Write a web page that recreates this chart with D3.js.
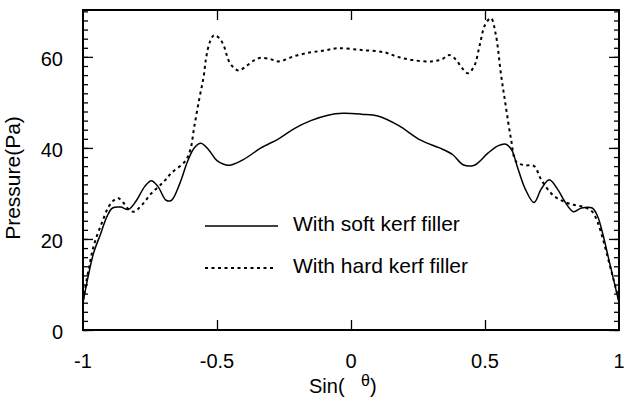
<!DOCTYPE html>
<html>
<head>
<meta charset="utf-8">
<script src="https://cdn.jsdelivr.net/npm/d3@7"></script>
<style>
  body { margin: 0; background: #fff; }
  svg { display: block; font-family: "Liberation Sans", Arial, sans-serif; }
</style>
</head>
<body>
<svg id="chart" width="632" height="397"></svg>
<script>
// pressure distribution vs sin(theta)
var softX = [-1, -0.98, -0.96, -0.935, -0.91, -0.89, -0.86, -0.83, -0.8, -0.77, -0.745, -0.72, -0.69, -0.67,
  -0.64, -0.61, -0.585, -0.56, -0.53, -0.5, -0.455, -0.4, -0.336, -0.27, -0.21, -0.15, -0.086, -0.03,
  0.04, 0.1, 0.175, 0.26, 0.33, 0.38, 0.418, 0.46, 0.51, 0.55, 0.578, 0.6, 0.62, 0.65, 0.683, 0.71,
  0.74, 0.77, 0.8, 0.83, 0.86, 0.9, 0.92, 0.94, 0.96, 0.98, 1];
var softY = [6, 12, 17, 21, 25, 26.8, 27, 26.5, 28.5, 31.5, 32.8, 31.5, 28.5, 28.5,
  32, 37, 40, 41, 39.5, 37.2, 36.2, 37.5, 40, 42, 44.3, 46, 47.2, 47.6,
  47.4, 47, 45, 41.7, 40, 38.5, 36.3, 36.2, 38.8, 40.5, 40.8, 39.5, 36, 31, 28, 31,
  33, 31, 28, 26, 26.8, 26.8, 25, 21, 16, 11, 6];

var hardX = [-1, -0.98, -0.96, -0.93, -0.905, -0.885, -0.87, -0.85, -0.83, -0.81, -0.78, -0.745, -0.7,
  -0.67, -0.62, -0.6, -0.585, -0.567, -0.55, -0.54, -0.525, -0.51, -0.49, -0.475, -0.455, -0.435,
  -0.418, -0.39, -0.36, -0.336, -0.3, -0.27, -0.21, -0.15, -0.1, -0.05, 0.04, 0.125, 0.175, 0.23,
  0.3, 0.34, 0.366, 0.39, 0.415, 0.436, 0.46, 0.48, 0.5, 0.522, 0.54, 0.56, 0.578, 0.597, 0.616,
  0.646, 0.683, 0.71, 0.754, 0.795, 0.83, 0.87, 0.9, 0.92, 0.94, 0.96, 0.98, 1];
var hardY = [6.5, 13, 18.5, 23.5, 27, 28.5, 29, 28, 26.5, 26, 27.5, 30, 32.5,
  34.5, 37, 39.5, 44.6, 50.5, 55.6, 60, 63.5, 64.8, 64, 62.5, 59, 57.5,
  57, 58, 59.3, 59.8, 59.5, 59, 60.2, 61, 61.4, 61.9, 61.5, 61, 60, 59.3,
  59, 59.5, 60.4, 59.5, 57.5, 56.4, 58, 62.5, 67, 68.5, 65, 56, 49, 42, 37,
  36.2, 36, 33, 29.6, 28.2, 27.5, 27, 26, 23.7, 20, 15.5, 11, 6.5];

var xTicks = [-1, -0.5, 0, 0.5, 1];
var xTickLabels = ["-1", "-0.5", "0", "0.5", "1"];
var yTicks = [0, 20, 40, 60];
var legendLabels = ["With soft kerf filler", "With hard kerf filler"];

var svg = d3.select("#chart");
var plotL = 83, plotR = 619, plotT = 10, plotB = 330;

var x = d3.scaleLinear().domain([-1, 1]).range([plotL, plotR]);
var y = d3.scaleLinear().domain([0, 70.3]).range([plotB, plotT]);

var minorY = d3.range(0, 71, 2);
var majorXinner = [-0.5, 0, 0.5];

// left axis ticks
svg.append("g").attr("transform", "translate(" + plotL + ",0)")
  .call(d3.axisLeft(y).tickValues(minorY).tickSize(-5).tickFormat(""));
svg.append("g").attr("transform", "translate(" + plotL + ",0)")
  .call(d3.axisLeft(y).tickValues(yTicks).tickSize(-10).tickFormat(""));
// right axis ticks
svg.append("g").attr("transform", "translate(" + plotR + ",0)")
  .call(d3.axisRight(y).tickValues(minorY).tickSize(-5).tickFormat(""));
svg.append("g").attr("transform", "translate(" + plotR + ",0)")
  .call(d3.axisRight(y).tickValues(yTicks).tickSize(-10).tickFormat(""));
// bottom / top ticks
svg.append("g").attr("transform", "translate(0," + plotB + ")")
  .call(d3.axisBottom(x).tickValues(majorXinner).tickSize(-10).tickFormat(""));
svg.append("g").attr("transform", "translate(0," + plotT + ")")
  .call(d3.axisTop(x).tickValues(majorXinner).tickSize(-10).tickFormat(""));

svg.selectAll(".domain").remove();
svg.selectAll(".tick line").attr("stroke", "#000").attr("stroke-width", 1.3);

// tick labels
svg.append("g").selectAll("text").data(yTicks).enter().append("text")
  .attr("x", plotL - 20).attr("y", function (d) { return y(d) + 9; })
  .attr("text-anchor", "end").attr("font-size", 20).text(function (d) { return d; });
svg.append("g").selectAll("text").data(xTicks).enter().append("text")
  .attr("x", function (d) { return x(d); }).attr("y", 368)
  .attr("text-anchor", "middle").attr("font-size", 20)
  .text(function (d, i) { return xTickLabels[i]; });

// frame
svg.append("rect").attr("x", plotL).attr("y", plotT)
  .attr("width", plotR - plotL).attr("height", plotB - plotT)
  .attr("fill", "none").attr("stroke", "#000").attr("stroke-width", 2);

// axis titles
var xt = svg.append("text").attr("x", 309).attr("y", 393).attr("font-size", 20);
xt.append("tspan").text("Sin(");
xt.append("tspan").attr("x", 361).attr("dy", -7).attr("font-size", 16).text("θ");
xt.append("tspan").attr("dy", 7).text(")");

svg.append("text")
  .attr("transform", "translate(20,178) rotate(-90)")
  .attr("text-anchor", "middle").attr("font-size", 21).text("Pressure(Pa)");

// curves
var line = d3.line()
  .x(function (d) { return x(d[0]); })
  .y(function (d) { return y(d[1]); })
  .curve(d3.curveCatmullRom.alpha(0.5));

var soft = d3.zip(softX, softY);
var hard = d3.zip(hardX, hardY);

svg.append("path").datum(hard).attr("d", line)
  .attr("fill", "none").attr("stroke", "#000").attr("stroke-width", 2)
  .attr("stroke-dasharray", "3,3.5");
svg.append("path").datum(soft).attr("d", line)
  .attr("fill", "none").attr("stroke", "#000").attr("stroke-width", 1.5);

// legend
var legY = [226, 268];
legendLabels.forEach(function (lab, i) {
  svg.append("line").attr("x1", 205).attr("x2", i == 0 ? 278 : 273)
    .attr("y1", legY[i]).attr("y2", legY[i])
    .attr("stroke", "#000").attr("stroke-width", i == 0 ? 1.5 : 2)
    .attr("stroke-dasharray", i == 0 ? null : "3,3.5");
  svg.append("text").attr("x", 293).attr("y", legY[i] + 5)
    .attr("font-size", 21).text(lab);
});
</script>
</body>
</html>
